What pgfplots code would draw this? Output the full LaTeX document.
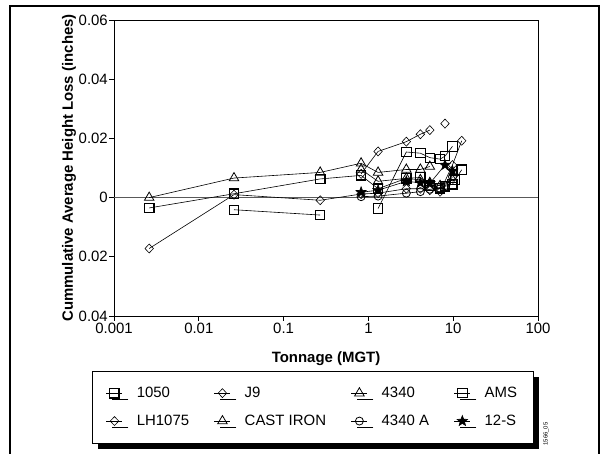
\documentclass[border=0pt]{standalone}
\usepackage{fontspec}
\setmainfont{Liberation Sans}
\usepackage{pgfplots}
\pgfplotsset{compat=1.18}
\usetikzlibrary{shadows}

% filled five-point star for the 12-S series
\pgfdeclareplotmark{fstar}{%
  \pgfpathmoveto{\pgfpointpolar{90}{\pgfplotmarksize}}%
  \pgfpathlineto{\pgfpointpolar{126}{0.42\pgfplotmarksize}}%
  \pgfpathlineto{\pgfpointpolar{162}{\pgfplotmarksize}}%
  \pgfpathlineto{\pgfpointpolar{198}{0.42\pgfplotmarksize}}%
  \pgfpathlineto{\pgfpointpolar{234}{\pgfplotmarksize}}%
  \pgfpathlineto{\pgfpointpolar{270}{0.42\pgfplotmarksize}}%
  \pgfpathlineto{\pgfpointpolar{306}{\pgfplotmarksize}}%
  \pgfpathlineto{\pgfpointpolar{342}{0.42\pgfplotmarksize}}%
  \pgfpathlineto{\pgfpointpolar{18}{\pgfplotmarksize}}%
  \pgfpathlineto{\pgfpointpolar{54}{0.42\pgfplotmarksize}}%
  \pgfpathclose\pgfusepathqfillstroke}

\begin{document}
\begin{tikzpicture}[x=1bp,y=1bp]
\useasboundingbox (0,0) rectangle (605,454);
\draw[line width=2.5bp] (10,0) -- (10,448) -- (599,448) -- (599,0);
\node[rotate=90, font=\fontsize{6}{7}\selectfont] at (546,20) {1566\_05};
\begin{axis}[
  at={(114bp,138bp)}, anchor=south west,
  scale only axis, width=424bp, height=296bp,
  xmode=log, xmin=0.001, xmax=100,
  ymin=-0.04, ymax=0.06,
  xtick={0.001,0.01,0.1,1,10,100},
  xticklabels={0.001,0.01,0.1,1,10,100},
  xminorticks=false,
  ytick={-0.04,-0.02,0,0.02,0.04,0.06},
  yticklabels={0.04,0.02,0,0.02,0.04,0.06},
  scaled y ticks=false,
  tick align=outside, major tick length=5bp,
  xtick pos=bottom, ytick pos=left,
  axis line style={line width=0.8bp},
  tick style={line width=0.8bp, black},
  tick label style={font=\fontsize{15}{17}\selectfont},
  yticklabel style={inner xsep=1bp},
  xticklabel style={inner ysep=2bp},
  xlabel={Tonnage (MGT)},
  ylabel={Cummulative Average Height Loss (inches)},
  every axis x label/.style={at={(axis description cs:0.5,-0.145)}, anchor=center},
  every axis y label/.style={at={(axis description cs:-0.106,0.5)}, rotate=90, anchor=center},
  label style={font=\bfseries\fontsize{15}{17}\selectfont},
  every axis plot/.append style={black, line width=0.6bp, mark options={solid, line width=0.8bp}},
  legend image code/.code={\draw[mark repeat=2,mark phase=2,#1] plot coordinates {(0bp,0bp) (8bp,0bp) (16bp,0bp)};},
  legend columns=4,
  legend cell align=left,
  legend style={at={(0,0)}, anchor=north west, xshift=-22bp, yshift=-55bp,
    draw=black, fill=white, inner xsep=14bp, inner ysep=14bp,
    drop shadow={shadow xshift=6bp, shadow yshift=-6bp, fill=black, opacity=1},
    font=\fontsize{15}{17}\selectfont,
    /tikz/row sep=12bp,
    /tikz/every odd column/.append style={column sep=12bp},
    /tikz/every even column/.append style={column sep=23bp}},
  legend entries={1050,J9,4340,AMS,LH1075,CAST IRON,4340 A,12-S},
]
% zero reference line
\addplot[forget plot, black!65, line width=1bp] coordinates {(0.001,0) (100,0)};
% 1050
\addplot[mark=square, mark size=4.7bp, mark options={line width=1.4bp}] coordinates {
  (0.0026,-0.0035) (0.026,0.0013) (0.27,0.0063) (0.82,0.0075) (1.3,0.0030)
  (2.8,0.0065) (4.1,0.0068) (5.3,0.0040) (7.0,0.0032) (8.0,0.0038)
  (9.8,0.0045) (10.5,0.0060) (12.6,0.0094)};
% J9
\addplot[mark=diamond, mark size=4.5bp, mark options={xscale=1.25}] coordinates {
  (0.82,0.0080) (1.3,0.0156) (2.8,0.0189) (4.1,0.0214) (5.3,0.0228)};
% 4340
\addplot[mark=triangle, mark size=5.5bp] coordinates {
  (0.0026,0.0000) (0.026,0.0066) (0.27,0.0085) (0.82,0.0116) (1.3,0.0085)
  (2.8,0.0095) (4.1,0.0095) (5.3,0.0105)};
% AMS
\addplot[mark=square, mark size=4.7bp] coordinates {
  (0.026,-0.0041) (0.27,-0.0059)};
% LH1075
\addplot[mark=diamond, mark size=4.5bp, mark options={xscale=1.25}] coordinates {
  (0.0026,-0.0172) (0.026,0.0010) (0.27,-0.0009) (0.82,0.0012) (1.3,0.0015)
  (2.8,0.0030) (4.1,0.0030) (5.3,0.0025) (7.0,0.0020) (9.8,0.0110) (12.6,0.0192)};
% CAST IRON
\addplot[mark=triangle, mark size=5.5bp] coordinates {
  (0.82,0.0095) (1.3,0.0055) (2.8,0.0065) (4.1,0.0060) (5.3,0.0050)
  (7.0,0.0040) (9.8,0.0060)};
% 4340 A
\addplot[mark=o, mark size=4bp] coordinates {
  (0.82,0.0003) (1.3,0.0005) (2.8,0.0015) (4.1,0.0020) (5.3,0.0028)
  (7.0,0.0030) (8.0,0.0040) (9.8,0.0070)};
% 12-S
\addplot[mark=fstar, mark size=5.5bp, mark options={fill=black}] coordinates {
  (0.82,0.0018) (1.3,0.0025) (2.8,0.0055) (4.1,0.0050) (5.3,0.0048)
  (8.0,0.0110) (9.8,0.0090)};
% second AMS run
\addplot[forget plot, mark=square, mark size=4.7bp] coordinates {
  (1.3,-0.0037) (2.8,0.0154) (4.1,0.0150) (5.3,0.0135) (7.0,0.0130)
  (8.0,0.0140) (9.8,0.0173)};
% lone J9 reading
\addplot[forget plot, only marks, mark=diamond, mark size=4.5bp, mark options={xscale=1.25}] coordinates {
  (8.0,0.0250)};
\end{axis}
\end{tikzpicture}
\end{document}
